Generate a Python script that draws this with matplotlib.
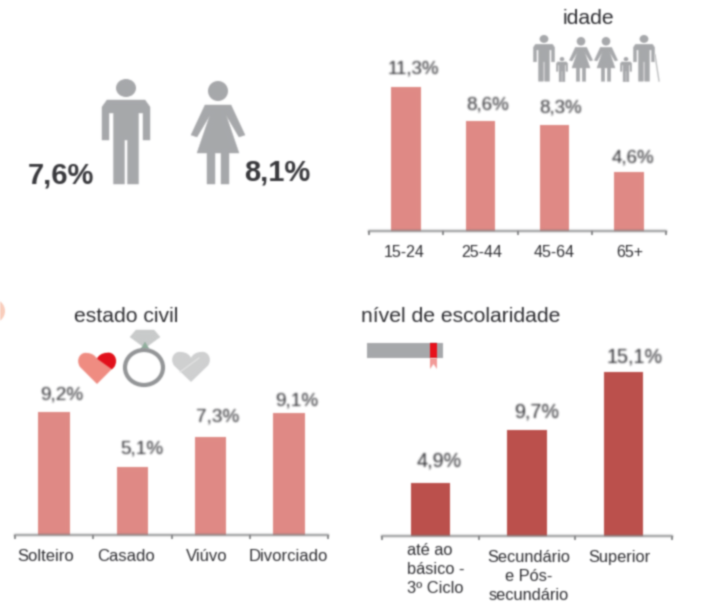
import numpy as np
import matplotlib
matplotlib.use("Agg")
import matplotlib.pyplot as plt
from matplotlib.patches import Ellipse, Polygon, PathPatch, Rectangle, Patch
from matplotlib.path import Path
from matplotlib.lines import Line2D
from matplotlib.text import Text
from matplotlib.transforms import ScaledTranslation

plt.rcParams['font.family'] = ['Liberation Sans', 'DejaVu Sans']

# data
idade_cats = ['15-24', '25-44', '45-64', '65+']
idade_vals = [11.3, 8.6, 8.3, 4.6]
civil_cats = ['Solteiro', 'Casado', 'Viúvo', 'Divorciado']
civil_vals = [9.2, 5.1, 7.3, 9.1]
esc_cats = ['até ao\nbásico -\n3º Ciclo', 'Secundário\ne Pós-\nsecundário', 'Superior']
esc_vals = [4.9, 9.7, 15.1]
homens = '7,6%'
mulheres = '8,1%'

W, H = 718, 613
fig = plt.figure(figsize=(W / 100, H / 100), dpi=100, facecolor='white')

PINK = '#DF8A85'
DARK = '#BC4F4B'
GRAY = '#A7A8AB'
TXT = '#2E2E32'
AXC = '#77787A'


def make_chart(x0, x1, base, top, scale, cats, vals, color, width,
               label_off, tick_off, tick_y, fs_val, fs_tick):
    """x0,x1,base,top in pixels; scale = px per unit."""
    ax = fig.add_axes([x0 / W, 1 - base / H, (x1 - x0) / W, (base - top) / H])
    ax.patch.set_visible(False)
    n = len(cats)
    per = (x1 - x0) / n
    xs = np.arange(n)
    ax.bar(xs, vals, width=width, color=color)
    ax.set_xlim(-0.5, n - 0.5)
    ax.set_ylim(0, (base - top) / scale)
    for s in ['top', 'left', 'right']:
        ax.spines[s].set_visible(False)
    ax.spines['bottom'].set_color(AXC)
    ax.spines['bottom'].set_linewidth(1.2)
    ax.set_yticks([])
    ax.set_xticks(np.arange(n + 1) - 0.5, labels=[''] * (n + 1))
    ax.tick_params(axis='x', which='major', length=3, width=1.2, color=AXC)
    ax.set_xticks(xs + np.array([o[0] for o in tick_off]) / per, labels=cats, minor=True)
    ax.tick_params(axis='x', which='minor', length=0, pad=tick_y, labelsize=fs_tick,
                   labelcolor=TXT)
    for x, v, (dx, dy) in zip(xs, vals, label_off):
        ax.annotate(f'{v:.1f}%'.replace('.', ','), (x, v), xytext=(dx * 0.72, -dy * 0.72),
                    textcoords='offset points', ha='center', va='center',
                    fontsize=fs_val, color=TXT)
    return ax


make_chart(369, 666, 230.7, 60, 12.72, idade_cats, idade_vals, PINK, 0.40,
           [(7, -18), (7, -16), (6, -17), (4, -14)],
           [(-2, 0), (1, 0), (0, 0), (1, 0)], 10.5, 13.5, 11.5)
make_chart(15, 328, 535, 380, 13.4, civil_cats, civil_vals, PINK, 0.40,
           [(8, -17), (9, -18), (7, -20), (8, -12)],
           [(-8, 0), (-6, 0), (-4, 0), (-1, 0)], 10, 13.7, 12)
ax3 = make_chart(382, 672, 535.7, 350, 10.85, esc_cats, esc_vals, DARK, 0.41,
                 [(9, -22), (10, -18), (11, -15)],
                 [(-23, 0), (2, 0), (-4, 0)], 10.5, 14.2, 11.8)
esc_lbls = ax3.get_xticklabels(minor=True)
for lb in esc_lbls:
    lb.set_linespacing(1.33)
esc_lbls[0].set_ha('left')
esc_lbls[0].set_transform(esc_lbls[0].get_transform() +
                          ScaledTranslation(0, 7 / 100, fig.dpi_scale_trans))

# overlay in pixel units for the pictograms and free text
ov = fig.add_axes([0, 0, 1, 1])
ov.set_xlim(0, W)
ov.set_ylim(H, 0)
ov.axis('off')
ov.patch.set_visible(False)


def poly(pts, color, **kw):
    p = Polygon(pts, closed=True, facecolor=color, edgecolor=color, lw=kw.pop('lw', 0.3),
                joinstyle='round', **kw)
    ov.add_patch(p)
    return p


def man(cx, top, s, color=GRAY):
    ov.add_patch(Ellipse((cx, top + 9 * s), 20 * s, 18 * s, color=color, lw=0))
    pts = [(-24, 28), (-19, 21), (19, 21), (24, 28), (24, 61), (17, 61), (17, 34),
           (12.5, 34), (12.5, 105), (1.5, 105), (1.5, 61), (-1.5, 61), (-1.5, 105),
           (-12.5, 105), (-12.5, 34), (-17, 34), (-17, 61), (-24, 61)]
    poly([(cx + x * s, top + y * s) for x, y in pts], color)


def woman(cx, top, s, color=GRAY):
    ov.add_patch(Ellipse((cx, top + 10 * s), 20 * s, 20 * s, color=color, lw=0))
    pts = [(-13, 24), (13, 24), (27, 54), (21, 56), (8, 34), (21, 72), (11, 72), (11, 103),
           (3, 103), (3, 72), (-3, 72), (-3, 103), (-11, 103), (-11, 72), (-21, 72),
           (-8, 34), (-21, 56), (-27, 54)]
    poly([(cx + x * s, top + y * s) for x, y in pts], color)


def heart(x0, x1, y0, y1, color):
    cx, hw, h = (x0 + x1) / 2, (x1 - x0) / 2, y1 - y0
    u = [(0, 1), (-.85, .45), (-1.1, .2), (-.8, -.05), (-.5, 0), (-.25, 0), (-.05, .1), (0, .2),
         (.05, .1), (.25, 0), (.5, 0), (.8, -.05), (1.1, .2), (.85, .45), (0, 1)]
    codes = [Path.MOVETO, Path.LINETO] + [Path.CURVE4] * 12 + [Path.CLOSEPOLY]
    pts = [(cx + a * hw, y0 + b * h) for a, b in u]
    p = PathPatch(Path(pts, codes), facecolor=color, edgecolor='none')
    ov.add_patch(p)
    return p


# gender icons
man(126, 79, 1.0)
woman(218, 81, 1.0)
ov.text(61, 175, homens, ha='center', va='center', fontsize=21, fontweight='bold', color='#38383C')
ov.text(277, 172.5, mulheres, ha='center', va='center', fontsize=21, fontweight='bold', color='#38383C')

# idade
ov.text(588.5, 18, 'idade', ha='center', va='center', fontsize=15.2, color=TXT)
man(544, 35, 0.44)
man(562, 57, 0.235)
woman(581, 37, 0.43)
woman(606, 37, 0.43)
man(626, 57, 0.235)
man(644, 35, 0.44)
ov.add_line(Line2D([655, 659], [55, 81], color='#BDBEC0', lw=1))

# estado civil
ov.text(126, 316, 'estado civil', ha='center', va='center', fontsize=15.2, color=TXT)
heart(77, 117, 353, 384, '#F08C82')
red = heart(77, 117, 353, 384, '#E2101C')
clip = Polygon([(96, 358), (120, 375), (120, 345), (96, 345)], closed=True,
               transform=ov.transData, facecolor='none', edgecolor='none')
red.set_clip_path(clip)
poly([(130, 337), (136, 330), (154, 330), (160, 337), (145, 348)], '#C9CBCB')
poly([(141, 349), (145, 342), (149, 349)], '#8FAE9C')
ov.add_patch(Ellipse((144, 367.5), 38, 35, facecolor='none', edgecolor='#939597', lw=3))
heart(171, 211, 352, 382, '#CFD0D1')
ov.add_line(Line2D([180, 199], [372, 358], color='#E6E7E7', lw=0.8))

# escolaridade
ov.text(461, 317, 'nível de escolaridade', ha='center', va='center', fontsize=15.2, color=TXT)
ov.add_patch(Rectangle((367, 343), 76, 15, facecolor=GRAY, edgecolor='none'))
poly([(430, 343), (437, 343), (437, 358), (430, 358)], '#E8101C', lw=0)
poly([(430, 358), (437, 358), (437, 369), (433.5, 364), (430, 369)], '#F29A98', lw=0)

# decorative circle at the left edge
ov.add_patch(Ellipse((-7, 311), 24, 24, facecolor='#F9CDBC', edgecolor='none'))


# slight softening to match the low resolution of the reference
def blur(img, dpi, sigma=0.8):
    pad = 5
    r = np.arange(-pad, pad + 1)
    k = np.exp(-r ** 2 / (2 * sigma ** 2))
    k /= k.sum()
    out = np.pad(img, ((pad, pad), (pad, pad), (0, 0))).astype(float)
    alpha = out[:, :, 3:4]
    out[:, :, :3] *= alpha          # blur premultiplied so edges do not darken
    for ax_ in (0, 1):
        out = np.apply_along_axis(lambda m: np.convolve(m, k, mode='same'), ax_, out)
    a = np.clip(out[:, :, 3:4], 1e-6, 1)
    out[:, :, :3] = np.clip(out[:, :, :3] / a, 0, 1)
    return out, -pad, -pad


for a in fig.findobj(lambda o: isinstance(o, (Text, Patch, Line2D))):
    if a is not fig.patch:
        a.set_agg_filter(blur)

fig.savefig('out.png', dpi=100, facecolor='white')
